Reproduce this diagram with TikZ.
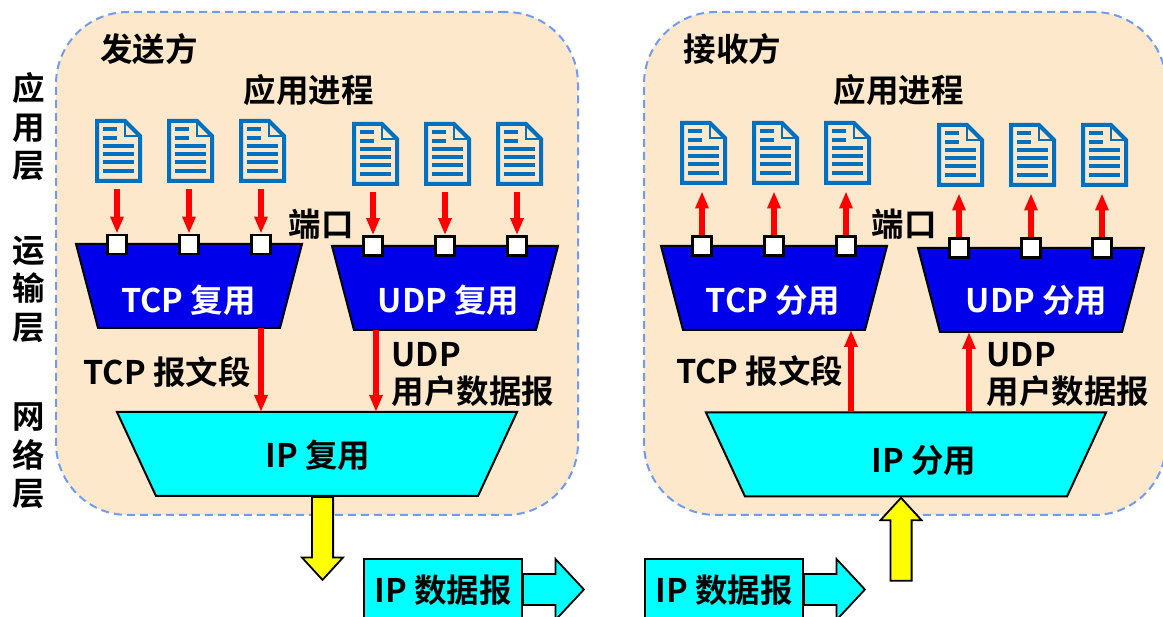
\documentclass[tikz,border=0pt]{standalone}
\usepackage{fontspec}
\setmainfont{Noto Sans CJK SC Bold}
\usetikzlibrary{shapes.arrows,arrows.meta}
\definecolor{mypeach}{RGB}{253,232,204}
\definecolor{mydash}{RGB}{111,155,240}
\definecolor{mydoc}{RGB}{0,112,192}
\definecolor{myblue}{RGB}{0,0,235}
\definecolor{mycyan}{RGB}{0,255,255}
\definecolor{myyellow}{RGB}{255,255,0}
\definecolor{myred}{RGB}{255,0,0}
\newcommand\docicon[3]{
\node[anchor=north west,minimum width=47pt,minimum height=64pt,inner sep=0pt] (#1) at (#2,#3) {};
\begin{scope}[shift={(#1.north west)},draw=mydoc,line width=4pt]
\draw[miter limit=4] (2,2) -- (30,2) -- (45,17) -- (45,62) -- (2,62) -- cycle;
\draw[line width=2.6pt] (30,2) |- (45,17);
\draw (8,10) -- (22,10) (8,19) -- (22,19);
\draw (8,27) -- (39,27) (8,35) -- (39,35) (8,43) -- (39,43) (8,52) -- (39,52);
\end{scope}
}
\newcommand\muxnode[5][myblue]{
\node[muxb,minimum width=#4pt] (#2) at (#3) {};
\draw[muxl,fill=#1] (#2.north west) -- (#2.north east) -- ([xshift=-#5pt]#2.south east) -- ([xshift=#5pt]#2.south west) -- cycle;
}

\begin{document}
\begin{tikzpicture}[x=1pt,y=-1pt,
every node/.style={font=\fontsize{32.5}{37}\selectfont},
sideb/.style={draw=mydash,fill=mypeach,line width=2pt,dash pattern=on 8pt off 5pt,rounded corners=72pt,minimum width=522pt,minimum height=503pt},
muxb/.style={minimum height=84pt,inner sep=0pt,outer sep=0pt},
muxl/.style={draw=black,line width=2pt},
portb/.style={draw=black,fill=white,line width=2.8pt,minimum size=19pt,inner sep=0pt},
redl/.style={draw=myred,line width=5.4pt,-{Triangle[length=17pt,width=12.5pt]}},
yellowa/.style={single arrow,draw=black,fill=myyellow,line width=1.8pt,inner sep=0pt,text height=9.7pt,text depth=9.7pt,minimum height=83pt,single arrow head extend=10pt,single arrow tip angle=85},
dataa/.style={single arrow,draw=black,fill=mycyan,line width=1.8pt,inner sep=0pt,text height=14.5pt,text depth=14.5pt,minimum height=61pt,single arrow head extend=15pt,single arrow tip angle=94},
datab/.style={draw=black,fill=mycyan,line width=1.8pt,minimum width=158pt,minimum height=62pt,inner sep=0pt},
]
\useasboundingbox (0,0) rectangle (1163,617);
\node[sideb] (Snd) at (317,263.5) {};
\node[sideb] (Rcv) at (905,263.5) {};
\node (SndT) at (149,49) {发送方};
\node (RcvT) at (732.5,49) {接收方};
\node[align=center,font=\fontsize{32.5}{38.5}\selectfont] (App) at (29,127) {应\\用\\层};
\node[align=center,font=\fontsize{32.5}{38.5}\selectfont] (Tra) at (29,289) {运\\输\\层};
\node[align=center,font=\fontsize{32.5}{38.5}\selectfont] (Net) at (29,456) {网\\络\\层};
\node (SndP) at (308.5,90) {应用进程};
\node (RcvP) at (898.5,90) {应用进程};
\node (SndK) at (321,224) {端口};
\node (RcvK) at (904,224) {端口};
% documents
\docicon{SD1}{95}{119}
\docicon{SD2}{167}{119}
\docicon{SD3}{239}{119}
\docicon{SD4}{352}{122}
\docicon{SD5}{424}{122}
\docicon{SD6}{496}{122}
\docicon{RD1}{680}{121}
\docicon{RD2}{752}{121}
\docicon{RD3}{824}{121}
\docicon{RD4}{937}{123}
\docicon{RD5}{1009}{123}
\docicon{RD6}{1081}{123}
% multiplexers
\muxnode{TCPs}{189,286}{226}{22}
\muxnode{UDPs}{445,288}{226}{22}
\muxnode{TCPr}{774,288}{226}{22}
\muxnode{UDPr}{1031,290}{226}{22}
\muxnode[mycyan]{IPs}{317,454}{400}{39}
\muxnode[mycyan]{IPr}{906,454.5}{400}{39}
\node[text=white] (TCPsl) at (188.5,300) {TCP 复用};
\node[text=white] (UDPsl) at (448.5,300) {UDP 复用};
\node[text=white] (TCPrl) at (773,300) {TCP 分用};
\node[text=white] (UDPrl) at (1036.5,300) {UDP 分用};
\node (IPsl) at (318,455) {IP 复用};
\node (IPrl) at (924,460) {IP 分用};
% ports
\node[portb] (SP1) at (117,244.5) {};
\node[portb] (SP2) at (189,244.5) {};
\node[portb] (SP3) at (261,244.5) {};
\node[portb] (SP4) at (373,246) {};
\node[portb] (SP5) at (445,246) {};
\node[portb] (SP6) at (517,246) {};
\node[portb] (RP1) at (702,246) {};
\node[portb] (RP2) at (774,246) {};
\node[portb] (RP3) at (846,246) {};
\node[portb] (RP4) at (959,248) {};
\node[portb] (RP5) at (1031,248) {};
\node[portb] (RP6) at (1102,248) {};
% arrows
\draw[redl] ([yshift=-6pt]SD1.south -| SP1) -- (SP1.north);
\draw[redl] ([yshift=-6pt]SD2.south -| SP2) -- (SP2.north);
\draw[redl] ([yshift=-6pt]SD3.south -| SP3) -- (SP3.north);
\draw[redl] ([yshift=-6pt]SD4.south -| SP4) -- (SP4.north);
\draw[redl] ([yshift=-6pt]SD5.south -| SP5) -- (SP5.north);
\draw[redl] ([yshift=-6pt]SD6.south -| SP6) -- (SP6.north);
\draw[redl] (RP1.north) -- ([yshift=-6pt]RD1.south -| RP1);
\draw[redl] (RP2.north) -- ([yshift=-6pt]RD2.south -| RP2);
\draw[redl] (RP3.north) -- ([yshift=-6pt]RD3.south -| RP3);
\draw[redl] (RP4.north) -- ([yshift=-6pt]RD4.south -| RP4);
\draw[redl] (RP5.north) -- ([yshift=-6pt]RD5.south -| RP5);
\draw[redl] (RP6.north) -- ([yshift=-6pt]RD6.south -| RP6);
\coordinate (UDPsx) at (376,0);
\coordinate (TCPrx) at (851,0);
\coordinate (UDPrx) at (969,0);
\draw[redl] (TCPs.south -| SP3) -- (IPs.north -| SP3);
\draw[redl] (UDPs.south -| UDPsx) -- (IPs.north -| UDPsx);
\draw[redl] (IPr.north -| TCPrx) -- (TCPr.south -| TCPrx);
\draw[redl] (IPr.north -| UDPrx) -- (UDPr.south -| UDPrx);
\node[anchor=west] (TCPst) at (80,372) {TCP 报文段};
\node[anchor=west] (TCPrt) at (672.5,371) {TCP 报文段};
\node[anchor=west,align=left] (UDPst) at (388,375) {UDP\\用户数据报};
\node[anchor=west,align=left] (UDPrt) at (983,375) {UDP\\用户数据报};
% datagrams
\coordinate (Yelsx) at (322.5,0);
\coordinate (Yelrx) at (901,0);
\node[yellowa,rotate=-90,anchor=tail] (Yels) at (IPs.south -| Yelsx) {};
\node[yellowa,rotate=90,anchor=tip] (Yelr) at (IPr.south -| Yelrx) {};
\node[dataa,anchor=tail] (Ars) at (522,589.5) {};
\node[dataa,anchor=tail] (Arr) at (803,589.5) {};
\node[datab] (Dgs) at (443,590) {IP 数据报};
\node[datab] (Dgr) at (724,590) {IP 数据报};
\end{tikzpicture}
\end{document}
